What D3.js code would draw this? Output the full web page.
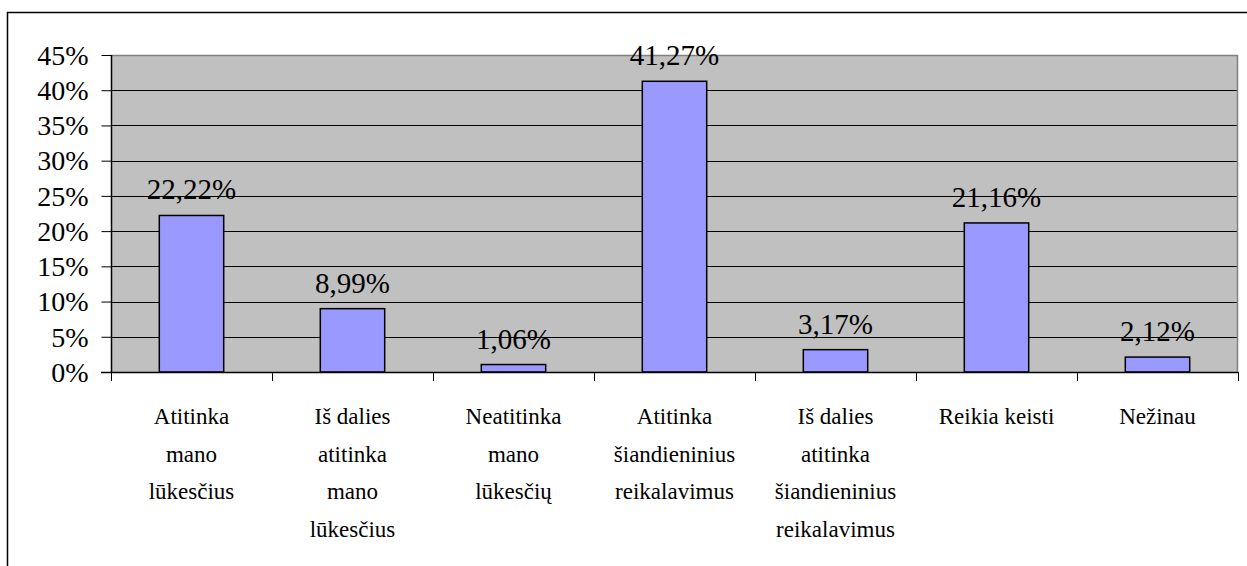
<!DOCTYPE html>
<html>
<head>
<meta charset="utf-8">
<script src="https://cdn.jsdelivr.net/npm/d3@7"></script>
<style>
  html, body { margin: 0; padding: 0; background: #fff; }
</style>
</head>
<body>
<div id="chart"></div>
<script>
// --- Data ---
const categories = [
    ["Atitinka", "mano", "lūkesčius"],
    ["Iš dalies", "atitinka", "mano", "lūkesčius"],
    ["Neatitinka", "mano", "lūkesčių"],
    ["Atitinka", "šiandieninius", "reikalavimus"],
    ["Iš dalies", "atitinka", "šiandieninius", "reikalavimus"],
    ["Reikia keisti"],
    ["Nežinau"]
];
const values = [22.22, 8.99, 1.06, 41.27, 3.17, 21.16, 2.12];
const yTicks = [0, 5, 10, 15, 20, 25, 30, 35, 40, 45];

const FONT = "'Liberation Serif', 'Times New Roman', serif";
const width = 1247, height = 566;
const margin = { left: 111, right: 9, top: 55, bottom: 194 };

const svg = d3.select("#chart").append("svg")
    .attr("width", width)
    .attr("height", height);

// outer chart frame (runs off the right/bottom edge like the original)
svg.append("rect")
    .attr("x", 7.5).attr("y", 12.5)
    .attr("width", 1260).attr("height", 580)
    .attr("fill", "none")
    .attr("stroke", "#000")
    .attr("stroke-width", 1.5);

// Excel-style gap width 150% -> bar is 0.4 of the category band
const x = d3.scaleBand()
    .domain(d3.range(categories.length))
    .range([margin.left, width - margin.right])
    .paddingInner(0.6)
    .paddingOuter(0.3);

const y = d3.scaleLinear()
    .domain([0, 45])
    .range([height - margin.bottom, margin.top]);

const x0 = margin.left, x1 = width - margin.right;
const band = (x1 - x0) / categories.length;

// plot background
svg.append("rect")
    .attr("x", x0).attr("y", y(45))
    .attr("width", x1 - x0).attr("height", y(0) - y(45))
    .attr("fill", "#c0c0c0");

// gridlines
svg.append("g")
    .selectAll("line")
    .data(yTicks.filter(d => d > 0 && d < 45))
    .join("line")
    .attr("x1", x0).attr("x2", x1)
    .attr("y1", d => Math.round(y(d)) + 0.5)
    .attr("y2", d => Math.round(y(d)) + 0.5)
    .attr("stroke", "#000");

// plot border (top / right, gray)
svg.append("path")
    .attr("d", `M${x0},${Math.round(y(45)) + 0.5}H${x1 - 0.5}V${y(0)}`)
    .attr("fill", "none")
    .attr("stroke", "#808080")
    .attr("stroke-width", 1.5);

// bars
svg.append("g")
    .selectAll("rect")
    .data(values)
    .join("rect")
    .attr("x", (d, i) => x(i))
    .attr("y", d => y(d))
    .attr("width", x.bandwidth())
    .attr("height", d => y(0) - y(d))
    .attr("fill", "#9999ff")
    .attr("stroke", "#000")
    .attr("stroke-width", 1.5);

// value labels
svg.append("g")
    .selectAll("text")
    .data(values)
    .join("text")
    .attr("x", (d, i) => x(i) + x.bandwidth() / 2)
    .attr("y", d => y(d) - 16)
    .attr("text-anchor", "middle")
    .style("font-family", FONT)
    .attr("font-size", 29)
    .attr("fill", "#000")
    .text(d => d.toFixed(2).replace(".", ",") + "%");

// y axis
const yAxis = svg.append("g")
    .attr("transform", `translate(${x0 + 0.5},0)`)
    .call(d3.axisLeft(y).tickValues(yTicks).tickSize(10).tickPadding(13)
        .tickFormat(d => d + "%"));
yAxis.select(".domain").attr("stroke", "#000").attr("stroke-width", 1.5)
    .attr("d", `M0,${y(45)}V${y(0) + 0.5}`);
yAxis.selectAll(".tick line").attr("stroke", "#000");
yAxis.selectAll(".tick text")
    .style("font-family", FONT)
    .attr("font-size", 28)
    .attr("fill", "#000")
    .attr("dy", "0.33em");

// x axis line and ticks at band boundaries
svg.append("line")
    .attr("x1", x0 - 10).attr("x2", x1)
    .attr("y1", Math.round(y(0)) + 0.5).attr("y2", Math.round(y(0)) + 0.5)
    .attr("stroke", "#000")
    .attr("stroke-width", 1.5);

svg.append("g")
    .selectAll("line")
    .data(d3.range(categories.length + 1))
    .join("line")
    .attr("x1", i => Math.round(x0 + i * band) + 0.5)
    .attr("x2", i => Math.round(x0 + i * band) + 0.5)
    .attr("y1", y(0))
    .attr("y2", y(0) + 9)
    .attr("stroke", "#000");

// category labels (multi-line)
const cat = svg.append("g")
    .selectAll("text")
    .data(categories)
    .join("text")
    .attr("text-anchor", "middle")
    .style("font-family", FONT)
    .attr("font-size", 23)
    .attr("fill", "#000")
    .attr("transform", (d, i) => `translate(${x0 + (i + 0.5) * band},${y(0) + 52})`);

cat.selectAll("tspan")
    .data(d => d)
    .join("tspan")
    .attr("x", 0)
    .attr("y", (d, j) => j * 37.5)
    .text(d => d);
</script>
</body>
</html>
